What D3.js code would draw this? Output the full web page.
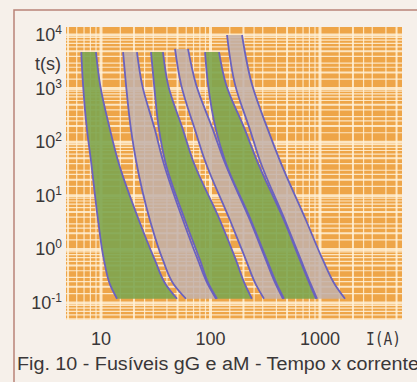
<!DOCTYPE html>
<html>
<head>
<meta charset="utf-8">
<script src="https://cdn.jsdelivr.net/npm/d3@7"></script>
<style>
  html, body { margin: 0; padding: 0; background: #f6f0ea; }
  svg { display: block; }
  text { font-family: "Liberation Sans", Arial, sans-serif; fill: #3a3738; }
</style>
</head>
<body>
<svg id="chart" width="417" height="382"></svg>
<script>
// tick values and labels
const timeTicks = [1e4, 1e3, 1e2, 1e1, 1e0, 1e-1];
const timeExponents = ["4", "3", "2", "1", "0", "-1"];
const currentTicks = [10, 100, 1000];
const currentLabels = ["10", "100", "1000"];

// six fuse bands, left to right (green = gG, grey = aM)
const bandKinds = ["gG", "aM", "gG", "aM", "gG", "aM"];
const bandTops = [4800, 4800, 4800, 5500, 4800, 10000];
const timeLevels = [1200, 170, 45, 3.5, 0.63, 0.22, 0.12];

// current (A) of each edge at the band top, then at every time level
const leftEdges = [
  [6.6, 6.85, 7.45, 8.1, 9.4, 10.65, 12.1, 14],
  [15.9, 16.9, 18.8, 20.9, 28, 36.8, 46.4, 59.7],
  [28.6, 30.5, 33.9, 38.4, 58.5, 80.2, 96.9, 114.7],
  [47.4, 53.8, 72.2, 89.1, 150.7, 211, 260, 308],
  [89.1, 94.9, 112.3, 135.7, 234, 328, 405, 469],
  [141.5, 167.4, 229.5, 283, 479, 671, 827, 939],
];
const rightEdges = [
  [9.0, 9.8, 12.1, 14.3, 22.2, 31.1, 39.2, 49.5],
  [21.3, 23.7, 31.1, 36.8, 56.1, 76.9, 94.9, 112.3],
  [36.8, 40.9, 56.1, 69.2, 122, 171, 207, 239],
  [62.3, 73.7, 105.4, 133, 229.5, 321, 396, 459],
  [119.6, 138.6, 206.6, 266, 469, 657, 810, 920],
  [194, 239, 335, 431, 745, 1065, 1371, 1692],
];

const COLORS = {
  paper: "#eea548",
  gridLine: "#fff1d8",
  gG: "#7da54f",
  aM: "#c2b0aa",
  edge: "#6a62bf",
  border: "#b98278",
};

const plot = { left: 66, right: 402, top: 27, bottom: 320 };

const svg = d3.select("#chart");

const x = d3.scaleLog().domain([10, 1000]).range([101, 320]);
const y = d3.scaleLog().domain([1e4, 1e-1]).range([35, 303]);

// frame
svg.append("path")
  .attr("d", "M14,382V10H417")
  .attr("fill", "none")
  .attr("stroke", COLORS.border)
  .attr("stroke-width", 1.5);

svg.append("clipPath").attr("id", "plotclip")
  .append("rect")
  .attr("x", plot.left).attr("y", plot.top)
  .attr("width", plot.right - plot.left).attr("height", plot.bottom - plot.top);

const g = svg.append("g").attr("clip-path", "url(#plotclip)");

g.append("rect")
  .attr("x", plot.left).attr("y", plot.top)
  .attr("width", plot.right - plot.left).attr("height", plot.bottom - plot.top)
  .attr("fill", COLORS.paper);

// log paper grid
const mult = [1, 1.5, 2, 2.5, 3, 4, 5, 6, 7, 8, 9];
const gridValues = (lo, hi) => {
  const out = [];
  for (let k = Math.floor(Math.log10(lo)); k <= Math.ceil(Math.log10(hi)); k++) {
    mult.forEach((m) => out.push({ v: m * Math.pow(10, k), m }));
  }
  return out;
};
const lineWidth = (m) => (m === 1 ? 3 : m === 5 || m === 2 ? 2 : 1.2);

const xGrid = gridValues(x.invert(plot.left), x.invert(plot.right));
const yGrid = gridValues(y.invert(plot.bottom), y.invert(plot.top));

g.selectAll(".hgrid")
  .data(yGrid)
  .join("line")
  .attr("class", "hgrid")
  .attr("x1", plot.left).attr("x2", plot.right)
  .attr("y1", (d) => y(d.v)).attr("y2", (d) => y(d.v))
  .attr("stroke", COLORS.gridLine)
  .attr("stroke-opacity", 0.85)
  .attr("stroke-width", (d) => lineWidth(d.m));

g.selectAll(".vgrid")
  .data(xGrid)
  .join("line")
  .attr("class", "vgrid")
  .attr("y1", plot.top).attr("y2", plot.bottom)
  .attr("x1", (d) => x(d.v)).attr("x2", (d) => x(d.v))
  .attr("stroke", COLORS.gridLine)
  .attr("stroke-opacity", 0.85)
  .attr("stroke-width", (d) => lineWidth(d.m));

// bands
const bands = bandKinds.map((kind, i) => {
  const times = [bandTops[i], ...timeLevels];
  return {
    kind,
    rows: times.map((t, j) => ({ t, lo: leftEdges[i][j], hi: rightEdges[i][j] })),
  };
});

const area = d3.area()
  .curve(d3.curveMonotoneY)
  .y((d) => y(d.t))
  .x0((d) => x(d.lo))
  .x1((d) => x(d.hi));

const edgeLine = (key) => d3.line()
  .curve(d3.curveMonotoneY)
  .y((d) => y(d.t))
  .x((d) => x(d[key]));

const bandG = g.selectAll(".band")
  .data(bands)
  .join("g")
  .attr("class", "band");

bandG.append("path")
  .attr("d", (d) => area(d.rows))
  .attr("fill", (d) => COLORS[d.kind])
  .attr("fill-opacity", (d) => (d.kind === "gG" ? 0.9 : 0.85));

["lo", "hi"].forEach((key) => {
  bandG.append("path")
    .attr("d", (d) => edgeLine(key)(d.rows))
    .attr("fill", "none")
    .attr("stroke", COLORS.edge)
    .attr("stroke-width", 1.8);
});

// y labels
const yLab = svg.selectAll(".ylab")
  .data(timeTicks)
  .join("text")
  .attr("class", "ylab")
  .attr("x", 62)
  .attr("y", (d) => y(d) + 6)
  .attr("text-anchor", "end")
  .style("font-size", "18px");
yLab.append("tspan").text("10");
yLab.append("tspan")
  .attr("dy", -7)
  .style("font-size", "12px")
  .text((d, i) => timeExponents[i]);

svg.append("text")
  .attr("x", 61).attr("y", 70)
  .attr("text-anchor", "end")
  .style("font-size", "18px")
  .text("t(s)");

// x labels
svg.selectAll(".xlab")
  .data(currentTicks)
  .join("text")
  .attr("class", "xlab")
  .attr("x", (d) => x(d))
  .attr("y", 345)
  .attr("text-anchor", "middle")
  .style("font-size", "18px")
  .text((d, i) => currentLabels[i]);

svg.append("text")
  .attr("x", 366).attr("y", 345)
  .attr("textLength", 35)
  .attr("lengthAdjust", "spacingAndGlyphs")
  .style("font-family", "'DejaVu Sans Mono', 'Liberation Mono', monospace")
  .style("font-size", "18px")
  .text("I(A)");

svg.append("text")
  .attr("x", 17).attr("y", 370)
  .attr("textLength", 402)
  .attr("lengthAdjust", "spacingAndGlyphs")
  .style("font-family", "'Liberation Sans Narrow', 'Liberation Sans', Arial, sans-serif")
  .style("font-size", "18px")
  .text("Fig. 10 - Fusíveis gG e aM - Tempo x corrente");
</script>
</body>
</html>
